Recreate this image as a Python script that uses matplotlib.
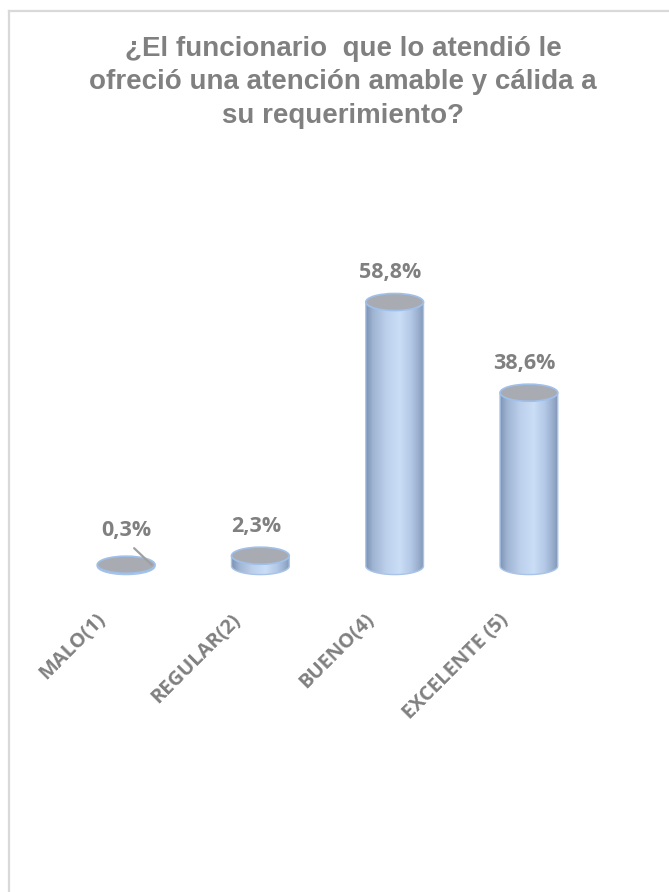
import numpy as np
import matplotlib.pyplot as plt
from matplotlib.patches import Ellipse, PathPatch
from matplotlib.path import Path
from matplotlib.colors import LinearSegmentedColormap
from matplotlib.transforms import ScaledTranslation
from matplotlib.lines import Line2D

# Survey results
categorias = ["MALO(1)", "REGULAR(2)", "BUENO(4)", "EXCELENTE (5)"]
porcentajes = [0.3, 2.3, 58.8, 38.6]
etiquetas = ["0,3%", "2,3%", "58,8%", "38,6%"]
titulo = "¿El funcionario  que lo atendió le\nofreció una atención amable y cálida a\nsu requerimiento?"

gris = "#808080"

fig = plt.figure(figsize=(6.69, 8.92), dpi=100)
ax = fig.add_axes([0.0882, 0.3352, 0.8027, 0.3826])
ax.set_xlim(-0.5, 3.5)
ax.set_ylim(-6, 70)
ax.patch.set_visible(False)
for spine in ax.spines.values():
    spine.set_visible(False)
ax.set_yticks([])

# cylinder geometry (data units)
ancho = 0.43
alto_elipse = 3.8

cmap = LinearSegmentedColormap.from_list(
    "cilindro",
    [(0.0, "#7d93b4"), (0.12, "#9fb4d2"), (0.35, "#bcd0ec"),
     (0.58, "#cadef7"), (0.78, "#b3c8e6"), (0.92, "#97acca"), (1.0, "#8196b6")])
grad = np.linspace(0, 1, 256).reshape(1, -1)

for i, v in enumerate(porcentajes):
    x0, x1 = i - ancho / 2, i + ancho / 2
    # body: side walls plus front half of the base ellipse
    t = np.linspace(np.pi, 2 * np.pi, 60)
    arco = np.column_stack([i + ancho / 2 * np.cos(t), alto_elipse / 2 * np.sin(t)])
    verts = np.vstack([[x0, v], [x0, 0], arco, [x1, 0], [x1, v], [x0, v]])
    cuerpo = PathPatch(Path(verts), facecolor="none", edgecolor="#a9c4e8", lw=1.0, zorder=3)
    ax.add_patch(cuerpo)
    img = ax.imshow(grad, cmap=cmap, aspect="auto", zorder=2,
                    extent=[x0, x1, -alto_elipse / 2, v], interpolation="bicubic")
    img.set_clip_path(cuerpo)
    # top cap
    ax.add_patch(Ellipse((i, v), ancho, alto_elipse, facecolor="#a8abb2",
                         edgecolor="#9fc0ea", lw=1.2, zorder=4))

fuente = "Open Sans"

# value labels
for i, (v, txt) in enumerate(zip(porcentajes, etiquetas)):
    if i == 0:
        # tiny bar: label lifted with a leader line
        ax.annotate(txt, xy=(i + 0.19, v), xytext=(i, 8.0), textcoords="data",
                    ha="center", va="center", fontsize=15.5, fontweight="bold",
                    color=gris, family=fuente, zorder=6,
                    arrowprops=dict(arrowstyle="-", color="#a0a0a0", lw=1.6,
                                    relpos=(0.5, 0.0), shrinkA=5, shrinkB=0))
    else:
        ax.annotate(txt, xy=(i, v), xytext=(-3, 21), textcoords="offset points",
                    ha="center", va="center", fontsize=15.5, fontweight="bold",
                    color=gris, family=fuente, zorder=6)

# category labels, slanted
ax.set_xticks(range(len(categorias)))
ax.set_xticklabels(categorias, rotation=45, ha="right", va="top",
                   fontsize=14.5, fontweight="bold", color=gris, family=fuente)
ax.tick_params(axis="x", length=0, pad=12)
desplaza = ScaledTranslation(-16 / 100, 0, fig.dpi_scale_trans)
for lab in ax.get_xticklabels():
    lab.set_transform(lab.get_transform() + desplaza)

fig.text(0.513, 0.9076, titulo, ha="center", va="center", fontsize=20,
         fontweight="bold", color=gris, family="Liberation Sans", linespacing=1.36)

# chart area border
borde = "#d9d9d9"
fig.add_artist(Line2D([9 / 669, 9 / 669], [0, 1 - 11 / 892], color=borde, lw=1.6))
fig.add_artist(Line2D([9 / 669, 1], [1 - 11 / 892, 1 - 11 / 892], color=borde, lw=1.6))

fig.savefig("out.png", dpi=100)
